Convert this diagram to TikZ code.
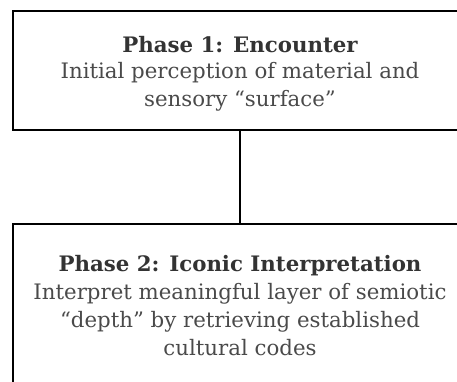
\documentclass[tikz,border=0pt]{standalone}
\usepackage{fontspec}
\setmainfont{DejaVu Serif}
\definecolor{inkgray}{HTML}{4A4A4A}
\definecolor{titlegray}{HTML}{333333}
\begin{document}
\begin{tikzpicture}[x=1pt,y=-1pt,
  phasebox/.style={draw=black, line width=2.6pt, rectangle, minimum width=454pt,
    align=center, text=inkgray, font=\fontsize{21.3}{28}\selectfont, inner sep=0pt}]
  \clip (0,0) rectangle (457,381);
  \useasboundingbox (0,0) rectangle (457,381);
  \node[phasebox, minimum height=119pt, text depth=0pt] (p1) at (240,70.5)
    {\raisebox{-3pt}{\bfseries\color{titlegray}Phase 1: Encounter}\\[-1pt]\raisebox{-2pt}{Initial perception of material and}\\\raisebox{-2pt}{sensory “surface”}};
  \node[phasebox, minimum height=164pt] (p2) at (240,306)
    {{\bfseries\color{titlegray}Phase 2: Iconic Interpretation}\\Interpret meaningful layer of semiotic\\“depth” by retrieving established\\cultural codes};
  \draw[line width=2.4pt] (p1.south) -- (p2.north);
\end{tikzpicture}
\end{document}
